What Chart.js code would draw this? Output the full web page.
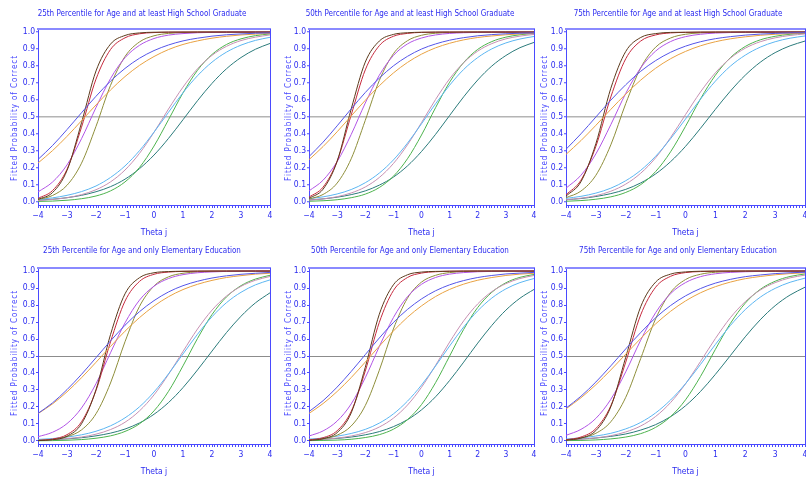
<!DOCTYPE html>
<html>
<head>
<meta charset="utf-8">
<script src="https://cdn.jsdelivr.net/npm/chart.js@4.4.1/dist/chart.umd.min.js"></script>
<style>
  html, body { margin: 0; padding: 0; background: #fff; overflow: hidden; }
  body { width: 806px; height: 478px; position: relative; }
  canvas { position: absolute; }
</style>
</head>
<body>
<canvas id="p0"></canvas>
<canvas id="p1"></canvas>
<canvas id="p2"></canvas>
<canvas id="p3"></canvas>
<canvas id="p4"></canvas>
<canvas id="p5"></canvas>
<script>
// theta grid the curves are read at
const theta = [-4, -3.5, -3, -2.5, -2, -1.5, -1, -0.5, 0, 0.5, 1, 1.5, 2, 2.5, 3, 3.5, 4];
const xTickLabels = [-4, -3, -2, -1, 0, 1, 2, 3, 4];
const yTickLabels = ['0.0', '0.1', '0.2', '0.3', '0.4', '0.5', '0.6', '0.7', '0.8', '0.9', '1.0'];

const titles = [
    '25th Percentile for Age and at least High School Graduate',
    '50th Percentile for Age and at least High School Graduate',
    '75th Percentile for Age and at least High School Graduate',
    '25th Percentile for Age and only Elementary Education',
    '50th Percentile for Age and only Elementary Education',
    '75th Percentile for Age and only Elementary Education'
];

// item order: blue, orange, brown, red, violet, olive, light blue, pink, green, teal
const itemColors = ['#5555e8', '#e9a243', '#5c3a1c', '#c62a3e', '#b255e6', '#8e8e3a', '#5cb6f2', '#c690b2', '#4db34d', '#2b7b7b'];

const hs25 = [
    [0.250,0.332,0.426,0.525,0.622,0.711,0.786,0.846,0.891,0.924,0.948,0.964,0.976,0.984,0.989,0.993,0.995],
    [0.229,0.302,0.386,0.478,0.571,0.659,0.738,0.804,0.856,0.897,0.927,0.948,0.964,0.975,0.983,0.988,0.992],
    [0.015,0.055,0.185,0.466,0.771,0.929,0.980,0.995,0.999,1,1,1,1,1,1,1,1],
    [0.021,0.067,0.192,0.440,0.723,0.897,0.966,0.990,0.997,0.999,1,1,1,1,1,1,1],
    [0.059,0.117,0.218,0.372,0.556,0.726,0.849,0.922,0.962,0.982,0.991,0.996,0.998,0.999,1,1,1],
    [0.014,0.038,0.098,0.228,0.445,0.686,0.856,0.942,0.978,0.992,0.997,0.999,1,1,1,1,1],
    [0.015,0.024,0.039,0.061,0.094,0.144,0.212,0.302,0.411,0.528,0.643,0.743,0.823,0.882,0.923,0.951,0.969],
    [0.008,0.015,0.025,0.043,0.072,0.118,0.188,0.286,0.410,0.547,0.676,0.784,0.863,0.916,0.950,0.970,0.983],
    [0.003,0.005,0.010,0.019,0.035,0.065,0.118,0.203,0.329,0.484,0.642,0.775,0.868,0.927,0.960,0.979,0.989],
    [0.010,0.016,0.025,0.039,0.060,0.090,0.134,0.196,0.276,0.374,0.484,0.596,0.698,0.784,0.850,0.899,0.933]
];
const hs50 = [
    [0.267,0.352,0.448,0.548,0.644,0.729,0.801,0.857,0.900,0.930,0.952,0.967,0.978,0.985,0.990,0.993,0.995],
    [0.249,0.326,0.413,0.506,0.598,0.684,0.759,0.821,0.870,0.907,0.934,0.954,0.968,0.977,0.984,0.989,0.993],
    [0.021,0.075,0.239,0.547,0.823,0.947,0.986,0.996,0.999,1,1,1,1,1,1,1,1],
    [0.028,0.087,0.240,0.512,0.777,0.920,0.975,0.992,0.998,0.999,1,1,1,1,1,1,1],
    [0.065,0.128,0.237,0.397,0.582,0.746,0.862,0.930,0.965,0.983,0.992,0.996,0.998,0.999,1,1,1],
    [0.017,0.044,0.111,0.254,0.480,0.715,0.872,0.949,0.981,0.993,0.997,0.999,1,1,1,1,1],
    [0.019,0.030,0.047,0.073,0.113,0.170,0.247,0.346,0.460,0.578,0.687,0.780,0.850,0.901,0.936,0.959,0.974],
    [0.011,0.018,0.031,0.053,0.088,0.144,0.226,0.336,0.467,0.603,0.725,0.820,0.888,0.932,0.960,0.976,0.986],
    [0.004,0.007,0.013,0.025,0.046,0.085,0.151,0.254,0.394,0.555,0.705,0.821,0.898,0.944,0.970,0.984,0.992],
    [0.011,0.018,0.028,0.043,0.065,0.099,0.146,0.212,0.297,0.398,0.509,0.619,0.718,0.800,0.862,0.908,0.939]
];
const hs75 = [
    [0.310,0.401,0.500,0.599,0.690,0.769,0.832,0.881,0.917,0.943,0.961,0.973,0.982,0.988,0.992,0.995,0.996],
    [0.280,0.361,0.451,0.545,0.635,0.717,0.787,0.843,0.886,0.919,0.943,0.960,0.972,0.981,0.987,0.991,0.994],
    [0.034,0.119,0.343,0.669,0.886,0.968,0.991,0.998,0.999,1,1,1,1,1,1,1,1],
    [0.042,0.128,0.327,0.618,0.843,0.947,0.983,0.995,0.998,0.999,1,1,1,1,1,1,1],
    [0.081,0.157,0.283,0.455,0.639,0.789,0.888,0.944,0.973,0.987,0.994,0.997,0.999,1,1,1,1],
    [0.025,0.064,0.157,0.336,0.579,0.789,0.911,0.965,0.987,0.995,0.998,0.999,1,1,1,1,1],
    [0.021,0.033,0.052,0.081,0.125,0.186,0.269,0.372,0.488,0.605,0.711,0.799,0.864,0.911,0.943,0.964,0.977],
    [0.013,0.022,0.037,0.063,0.105,0.169,0.260,0.379,0.514,0.647,0.760,0.846,0.905,0.943,0.966,0.980,0.989],
    [0.004,0.008,0.016,0.030,0.056,0.102,0.179,0.295,0.445,0.606,0.746,0.849,0.915,0.954,0.975,0.987,0.993],
    [0.013,0.020,0.032,0.049,0.074,0.112,0.165,0.237,0.327,0.433,0.545,0.652,0.746,0.822,0.879,0.919,0.947]
];
const el25 = [
    [0.162,0.224,0.302,0.392,0.490,0.589,0.681,0.761,0.826,0.877,0.914,0.940,0.959,0.972,0.981,0.987,0.992],
    [0.161,0.218,0.289,0.372,0.463,0.556,0.646,0.726,0.794,0.849,0.891,0.922,0.945,0.962,0.973,0.982,0.987],
    [0.002,0.007,0.028,0.101,0.302,0.626,0.866,0.961,0.990,0.997,0.999,1,1,1,1,1,1],
    [0.003,0.011,0.037,0.113,0.297,0.583,0.823,0.939,0.981,0.994,0.998,0.999,1,1,1,1,1],
    [0.025,0.051,0.102,0.194,0.337,0.519,0.695,0.829,0.911,0.956,0.979,0.990,0.995,0.998,0.999,1,1],
    [0.003,0.009,0.025,0.065,0.160,0.341,0.584,0.792,0.912,0.966,0.987,0.995,0.998,0.999,1,1,1],
    [0.009,0.014,0.023,0.036,0.057,0.089,0.136,0.201,0.288,0.395,0.512,0.628,0.731,0.814,0.875,0.919,0.948],
    [0.005,0.008,0.014,0.023,0.040,0.067,0.110,0.177,0.271,0.392,0.527,0.659,0.770,0.853,0.910,0.946,0.968],
    [0.001,0.002,0.004,0.008,0.016,0.030,0.056,0.101,0.177,0.292,0.442,0.603,0.744,0.848,0.914,0.953,0.975],
    [0.005,0.008,0.012,0.019,0.030,0.046,0.070,0.106,0.157,0.226,0.314,0.418,0.529,0.638,0.734,0.813,0.872]
];
const el50 = [
    [0.173,0.237,0.317,0.409,0.508,0.606,0.697,0.774,0.836,0.884,0.919,0.944,0.962,0.974,0.983,0.988,0.992],
    [0.162,0.220,0.291,0.373,0.464,0.558,0.647,0.728,0.795,0.850,0.892,0.923,0.946,0.962,0.974,0.982,0.987],
    [0.003,0.013,0.049,0.165,0.433,0.746,0.919,0.978,0.994,0.998,0.999,1,1,1,1,1,1],
    [0.006,0.019,0.060,0.174,0.411,0.698,0.885,0.962,0.988,0.996,0.999,1,1,1,1,1,1],
    [0.029,0.059,0.117,0.218,0.372,0.556,0.726,0.849,0.922,0.962,0.982,0.991,0.996,0.998,0.999,1,1],
    [0.005,0.013,0.034,0.088,0.208,0.416,0.659,0.840,0.935,0.975,0.991,0.997,0.999,1,1,1,1],
    [0.011,0.017,0.028,0.044,0.068,0.105,0.159,0.234,0.329,0.441,0.559,0.671,0.766,0.841,0.895,0.932,0.956],
    [0.006,0.010,0.017,0.029,0.049,0.082,0.134,0.211,0.316,0.445,0.582,0.707,0.807,0.879,0.926,0.956,0.974],
    [0.002,0.003,0.005,0.010,0.020,0.037,0.069,0.125,0.214,0.343,0.500,0.657,0.786,0.875,0.931,0.963,0.980],
    [0.006,0.010,0.015,0.023,0.036,0.055,0.084,0.125,0.183,0.260,0.356,0.464,0.576,0.680,0.770,0.840,0.892]
];
const el75 = [
    [0.193,0.263,0.347,0.442,0.542,0.638,0.725,0.797,0.854,0.897,0.929,0.951,0.967,0.977,0.985,0.990,0.993],
    [0.189,0.254,0.331,0.418,0.511,0.603,0.689,0.763,0.824,0.872,0.908,0.935,0.955,0.968,0.978,0.985,0.990],
    [0.004,0.017,0.061,0.201,0.493,0.790,0.935,0.982,0.995,0.999,1,1,1,1,1,1,1],
    [0.007,0.023,0.073,0.207,0.464,0.742,0.905,0.969,0.991,0.997,0.999,1,1,1,1,1,1],
    [0.033,0.068,0.133,0.245,0.407,0.593,0.755,0.867,0.932,0.967,0.984,0.992,0.996,0.998,0.999,1,1],
    [0.006,0.017,0.045,0.113,0.257,0.485,0.719,0.874,0.950,0.981,0.993,0.997,0.999,1,1,1,1],
    [0.011,0.018,0.029,0.045,0.071,0.109,0.165,0.241,0.337,0.450,0.568,0.679,0.773,0.846,0.898,0.934,0.958],
    [0.006,0.011,0.018,0.031,0.053,0.088,0.144,0.226,0.336,0.467,0.603,0.725,0.820,0.888,0.932,0.960,0.976],
    [0.002,0.003,0.006,0.012,0.023,0.043,0.080,0.143,0.242,0.379,0.539,0.691,0.811,0.892,0.940,0.968,0.983],
    [0.007,0.011,0.017,0.027,0.041,0.064,0.096,0.143,0.207,0.291,0.392,0.502,0.613,0.713,0.796,0.859,0.905]
];
const panelData = [hs25, hs50, hs75, el25, el50, el75];

const FONT = "'Liberation Sans Narrow', 'DejaVu Sans Condensed', 'Liberation Sans', sans-serif";
const TXT = '#2b2bf0';
const AXIS = '#4a4aff';
const yTitleText = 'Fitted Probability of Correct';

// column geometry: canvas left/width, layout padding, y axis width, y title x
const cols = [
    { left: 0, w: 272, padL: 14, padR: 2, yw: 24, ytx: 15 },
    { left: 270, w: 266, padL: 16, padR: 2, yw: 23, ytx: 19 },
    { left: 536, w: 270, padL: 15, padR: 1, yw: 15, ytx: 9 }
];

Chart.defaults.font.family = FONT;

// letter-spaced rotated y title like the original
const yTitlePlugin = {
    id: 'yTitle',
    afterDraw(chart, args, opts) {
        const ctx = chart.ctx;
        ctx.save();
        ctx.font = '8px ' + FONT;
        ctx.fillStyle = '#4646ff';
        ctx.textBaseline = 'middle';
        ctx.translate(opts.x, opts.y);
        ctx.rotate(-Math.PI / 2);
        const chars = yTitleText.split('');
        const widths = chars.map(c => ctx.measureText(c).width);
        const natural = widths.reduce((a, b) => a + b, 0);
        const gap = (opts.length - natural) / (chars.length - 1);
        let x = -opts.length / 2;
        chars.forEach((c, i) => {
            ctx.fillText(c, x, 0);
            x += widths[i] + gap;
        });
        ctx.restore();
    }
};

function makePanel(i) {
    const col = i % 3;
    const row = Math.floor(i / 3);
    const g = cols[col];
    const canvas = document.getElementById('p' + i);
    canvas.width = g.w;
    canvas.height = 239;
    canvas.style.left = g.left + 'px';
    canvas.style.top = (row * 239) + 'px';

    const refColor = row === 0 ? '#b4b4b4' : '#8c8c8c';
    const refWidth = row === 0 ? 1.5 : 1;

    new Chart(canvas, {
        type: 'line',
        data: {
            datasets: panelData[i].map((series, k) => ({
                data: series.map((y, j) => ({ x: theta[j], y: y })),
                borderColor: itemColors[k],
                borderWidth: 1,
                pointRadius: 0,
                fill: false,
                cubicInterpolationMode: 'monotone'
            }))
        },
        options: {
            responsive: false,
            animation: false,
            events: [],
            layout: { padding: { left: g.padL, right: g.padR, top: 0, bottom: 0 } },
            plugins: {
                legend: { display: false },
                tooltip: { enabled: false },
                title: {
                    display: true,
                    text: titles[i],
                    color: TXT,
                    font: { size: 8, weight: 'normal' },
                    padding: { top: row === 0 ? 9.2 : 7.6, bottom: row === 0 ? 10.2 : 11.8 }
                },
                yTitle: { x: g.ytx, y: row === 0 ? 118.5 : 114.5, length: 125 }
            },
            scales: {
                x: {
                    type: 'linear',
                    min: -4,
                    max: 4,
                    afterBuildTicks: s => {
                        s.ticks = Array.from({ length: 81 }, (_, k) => ({ value: Math.round(-40 + k) / 10 }));
                    },
                    afterFit: s => {
                        s.height = 34;
                        s.paddingLeft = 0;
                        s.paddingRight = 0;
                    },
                    ticks: {
                        autoSkip: false,
                        maxRotation: 0,
                        minRotation: 0,
                        padding: 3,
                        color: TXT,
                        font: { size: 8.5 },
                        callback: v => {
                            const r = Math.round(v);
                            if (Math.abs(v - r) > 1e-6 || !xTickLabels.includes(r)) return '';
                            return r < 0 ? '\u2212' + (-r) : String(r);
                        }
                    },
                    grid: { drawOnChartArea: false, tickLength: 3, tickColor: AXIS, tickWidth: 1 },
                    border: { color: AXIS, width: 1 },
                    title: {
                        display: true,
                        text: 'Theta j',
                        color: TXT,
                        font: { size: 8.5 },
                        padding: { top: 0, bottom: 1 }
                    }
                },
                y: {
                    min: -0.018,
                    max: 1.018,
                    afterFit: s => {
                        s.width = g.yw;
                        s.paddingTop = 0;
                        s.paddingBottom = 0;
                    },
                    ticks: {
                        stepSize: 0.1,
                        includeBounds: false,
                        padding: 1,
                        color: TXT,
                        font: { size: 8.5 },
                        callback: v => yTickLabels[Math.round(v * 10)] || ''
                    },
                    grid: {
                        color: c => (c.tick && Math.abs(c.tick.value - 0.5) < 1e-6) ? refColor : 'rgba(0,0,0,0)',
                        lineWidth: refWidth,
                        tickLength: 2,
                        tickColor: AXIS,
                        tickWidth: 1
                    },
                    border: { color: AXIS, width: 1 }
                },
                xt: {
                    type: 'linear',
                    position: 'top',
                    min: -4,
                    max: 4,
                    ticks: { display: false },
                    grid: { display: false },
                    border: { color: '#8a8aff', width: 2 },
                    afterFit: s => { s.height = 0; }
                },
                yr: {
                    type: 'linear',
                    position: 'right',
                    min: -0.018,
                    max: 1.018,
                    ticks: { display: false },
                    grid: { display: false },
                    border: { color: AXIS, width: 1 },
                    afterFit: s => { s.width = 0; }
                }
            }
        },
        plugins: [yTitlePlugin]
    });
}

for (let i = 0; i < 6; i++) makePanel(i);
</script>
</body>
</html>
